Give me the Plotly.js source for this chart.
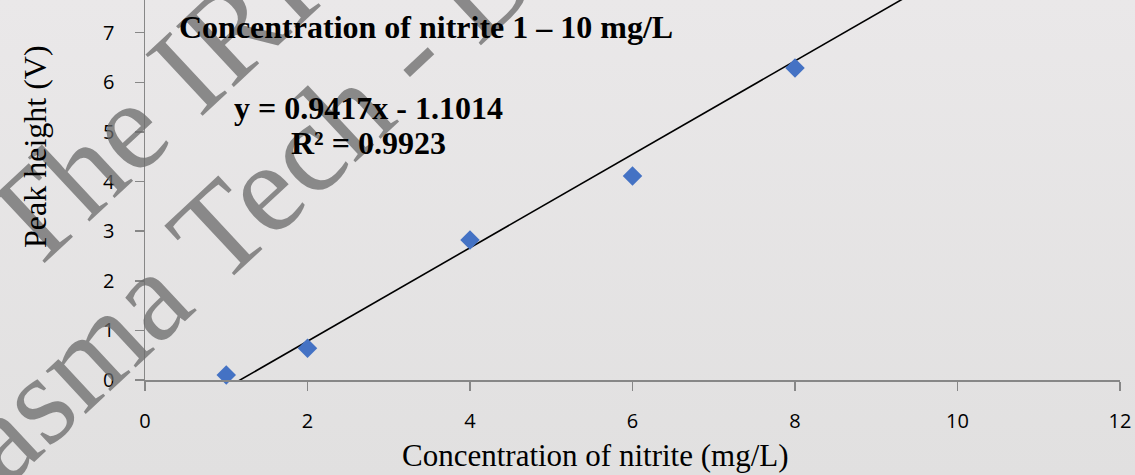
<!DOCTYPE html>
<html>
<head>
<meta charset="utf-8">
<script src="https://cdn.plot.ly/plotly-3.0.1.min.js"></script>
<style>
  html, body { margin: 0; padding: 0; background: #e6e5e5; }
  #chart { width: 1135px; height: 475px; }
</style>
</head>
<body>
<div id="chart"></div>
<script>
// ---- data ----
const concentration = [1, 2, 4, 6, 8];              // mg/L
const peakHeight    = [0.10, 0.64, 2.82, 4.11, 6.29]; // V
const trendSlope     = 0.9417;
const trendIntercept = -1.1014;
const trendX = [1, 10];
const xTickVals = [0, 2, 4, 6, 8, 10, 12];
const yTickVals = [0, 1, 2, 3, 4, 5, 6, 7];

const titleText    = 'Concentration of nitrite 1 – 10 mg/L';
const equationText = 'y = 0.9417x - 1.1014';
const r2Text       = 'R² = 0.9923';
const xTitleText   = 'Concentration of nitrite (mg/L)';
const yTitleText   = 'Peak height (V)';
const watermark1   = 'The IRI';
const watermark2   = 'Plasma Tech - D';

const trendY = trendX.map(x => trendSlope * x + trendIntercept);

// ---- layout geometry (pixels) ----
const W = 1135, H = 475;
const M = { l: 145, r: 15, t: 0, b: 95 };
const PW = W - M.l - M.r, PH = H - M.t - M.b;
const px = x => (x - M.l) / PW;
const py = y => (H - M.b - y) / PH;

const serif = '"Liberation Serif", "Times New Roman", serif';
const sans = '"Open Sans", sans-serif';

const gradSvg = '<svg xmlns="http://www.w3.org/2000/svg" width="100" height="100" preserveAspectRatio="none">' +
  '<defs><linearGradient id="g" x1="0" y1="0" x2="0" y2="1">' +
  '<stop offset="0" stop-color="#eae8e9"/><stop offset="1" stop-color="#e1e0e0"/>' +
  '</linearGradient></defs><rect width="100" height="100" fill="url(#g)"/></svg>';

const traces = [
  {
    x: trendX, y: trendY, type: 'scatter', mode: 'lines',
    line: { color: '#000000', width: 1.6 }, hoverinfo: 'skip', showlegend: false
  },
  {
    x: concentration, y: peakHeight, type: 'scatter', mode: 'markers',
    marker: { symbol: 'diamond', size: 15, color: '#4472c4', line: { width: 0 } },
    showlegend: false, cliponaxis: false
  }
];

const wmColor = 'rgba(105,105,105,0.75)';
const layout = {
  width: W, height: H,
  margin: { l: M.l, r: M.r, t: M.t, b: M.b, pad: 0 },
  paper_bgcolor: '#e6e5e5',
  plot_bgcolor: 'rgba(0,0,0,0)',
  showlegend: false,
  images: [{
    source: 'data:image/svg+xml;charset=utf-8,' + encodeURIComponent(gradSvg),
    xref: 'paper', yref: 'paper',
    x: px(0), y: py(0), sizex: W / PW, sizey: H / PH,
    xanchor: 'left', yanchor: 'top', sizing: 'stretch', layer: 'below'
  }],
  xaxis: {
    range: [0, 12], tickvals: xTickVals, ticktext: xTickVals.map(String),
    showline: true, linecolor: '#878787', linewidth: 1.5,
    ticks: 'outside', ticklen: 9, tickwidth: 1.5, tickcolor: '#878787',
    showgrid: false, zeroline: false,
    tickfont: { family: sans, size: 20, color: '#000000' },
    ticklabelstandoff: 13
  },
  yaxis: {
    range: [0, 7.66], tickvals: yTickVals, ticktext: yTickVals.map(String),
    showline: true, linecolor: '#878787', linewidth: 1.5,
    ticks: 'outside', ticklen: 9, tickwidth: 1.5, tickcolor: '#878787',
    showgrid: false, zeroline: false,
    tickfont: { family: sans, size: 20, color: '#000000' },
    ticklabelstandoff: 16
  },
  annotations: [
    { text: watermark1, xref: 'paper', yref: 'paper', x: px(148), y: py(108),
      xanchor: 'center', yanchor: 'middle', showarrow: false, textangle: -43,
      font: { family: serif, size: 128, color: wmColor } },
    { text: watermark2, xref: 'paper', yref: 'paper', x: px(207), y: py(242),
      xanchor: 'center', yanchor: 'middle', showarrow: false, textangle: -43,
      font: { family: serif, size: 128, color: wmColor } },
    { text: titleText, xref: 'paper', yref: 'paper', x: px(426), y: py(27),
      xanchor: 'center', yanchor: 'middle', showarrow: false,
      font: { family: serif, size: 32, color: '#000000', weight: 'bold' } },
    { text: equationText, xref: 'paper', yref: 'paper', x: px(368), y: py(108),
      xanchor: 'center', yanchor: 'middle', showarrow: false,
      font: { family: serif, size: 32, color: '#000000', weight: 'bold' } },
    { text: r2Text, xref: 'paper', yref: 'paper', x: px(368), y: py(143),
      xanchor: 'center', yanchor: 'middle', showarrow: false,
      font: { family: serif, size: 32, color: '#000000', weight: 'bold' } },
    { text: xTitleText, xref: 'paper', yref: 'paper', x: px(595), y: py(455),
      xanchor: 'center', yanchor: 'middle', showarrow: false,
      font: { family: serif, size: 31, color: '#000000' } },
    { text: yTitleText, xref: 'paper', yref: 'paper', x: px(35), y: py(147),
      xanchor: 'center', yanchor: 'middle', showarrow: false, textangle: -90,
      font: { family: serif, size: 32, color: '#000000' } }
  ]
};

Plotly.newPlot('chart', traces, layout, { displayModeBar: false, staticPlot: true });
</script>
</body>
</html>
